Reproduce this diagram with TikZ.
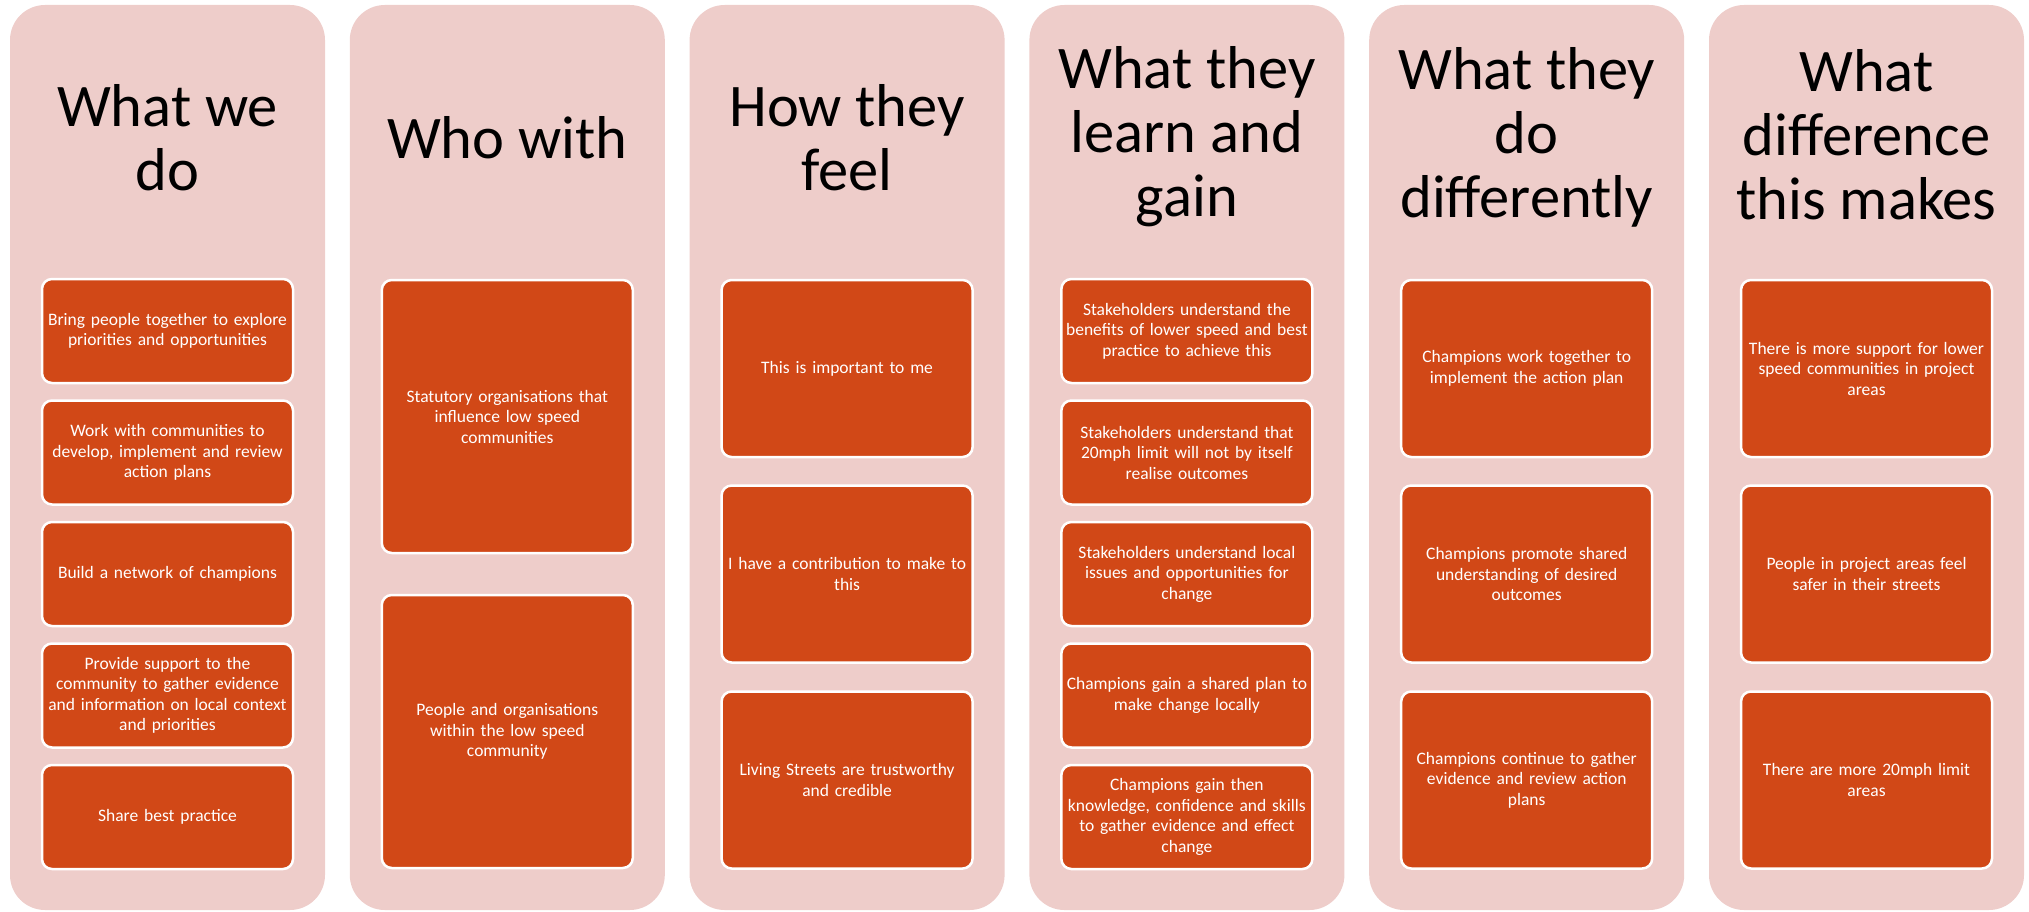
\documentclass[tikz,border=0pt]{standalone}
\usepackage{fontspec}
\setmainfont{Carlito}
\definecolor{colbg}{HTML}{EECDCA}
\definecolor{boxfill}{HTML}{D14817}
\tikzset{
  column/.style={fill=colbg, rounded corners=35pt, minimum width=315pt, minimum height=905pt, inner sep=0pt},
  coltitle/.style={font=\fontsize{60.5}{64}\selectfont, align=center, text=black, inner sep=0pt},
  itembox/.style={fill=boxfill, draw=white, line width=2.5pt, rounded corners=10pt, text=white,
    align=center, text width=248pt, minimum width=251pt, font=\fontsize{17.5}{20.5}\selectfont, inner sep=0pt},
  small/.style={itembox, minimum height=104pt},
  mid/.style={itembox, minimum height=177pt},
  tall/.style={itembox, minimum height=273pt},
}
\begin{document}
\begin{tikzpicture}[x=1pt,y=-1pt]
\useasboundingbox (0,0) rectangle (2029,912);
% columns
\node[column] (c1) at (167.5,457.5) {};
\node[column] (c2) at (507.3,457.5) {};
\node[column] (c3) at (847.1,457.5) {};
\node[column] (c4) at (1186.9,457.5) {};
\node[column] (c5) at (1526.7,457.5) {};
\node[column] (c6) at (1866.5,457.5) {};
% titles
\node[coltitle] (t1) at (167.5,138) {What we\\do};
\node[coltitle] (t2) at (507.3,138) {Who with};
\node[coltitle] (t3) at (847.1,138) {How they\\feel};
\node[coltitle] (t4) at (1186.9,137) {What they\\learn and\\gain};
\node[coltitle] (t5) at (1526.7,137) {What they\\do\\differently};
\node[coltitle] (t6) at (1866.5,135) {What\\difference\\this makes};
% column 1
\node[small] (a1) at (167.5,331) {Bring people together to explore\\priorities and opportunities};
\node[small] (a2) at (167.5,452.5) {Work with communities to\\develop, implement and review\\action plans};
\node[small] (a3) at (167.5,574) {Build a network of champions};
\node[small] (a4) at (167.5,695.5) {Provide support to the\\community to gather evidence\\and information on local context\\and priorities};
\node[small] (a5) at (167.5,817) {Share best practice};
% column 2
\node[tall] (b1) at (507.3,416.5) {Statutory organisations that\\influence low speed\\communities};
\node[tall] (b2) at (507.3,731.5) {People and organisations\\within the low speed\\community};
% column 3
\node[mid] (d1) at (847.1,368.5) {This is important to me};
\node[mid] (d2) at (847.1,574) {I have a contribution to make to\\this};
\node[mid] (d3) at (847.1,780) {Living Streets are trustworthy\\and credible};
% column 4
\node[small] (e1) at (1186.9,331) {Stakeholders understand the\\benefits of lower speed and best\\practice to achieve this};
\node[small] (e2) at (1186.9,452.5) {Stakeholders understand that\\20mph limit will not by itself\\realise outcomes};
\node[small] (e3) at (1186.9,574) {Stakeholders understand local\\issues and opportunities for\\change};
\node[small] (e4) at (1186.9,695.5) {Champions gain a shared plan to\\make change locally};
\node[small] (e5) at (1186.9,817) {Champions gain then\\knowledge, confidence and skills\\to gather evidence and effect\\change};
% column 5
\node[mid] (f1) at (1526.7,368.5) {Champions work together to\\implement the action plan};
\node[mid] (f2) at (1526.7,574) {Champions promote shared\\understanding of desired\\outcomes};
\node[mid] (f3) at (1526.7,780) {Champions continue to gather\\evidence and review action\\plans};
% column 6
\node[mid] (g1) at (1866.5,368.5) {There is more support for lower\\speed communities in project\\areas};
\node[mid] (g2) at (1866.5,574) {People in project areas feel\\safer in their streets};
\node[mid] (g3) at (1866.5,780) {There are more 20mph limit\\areas};
\end{tikzpicture}
\end{document}
